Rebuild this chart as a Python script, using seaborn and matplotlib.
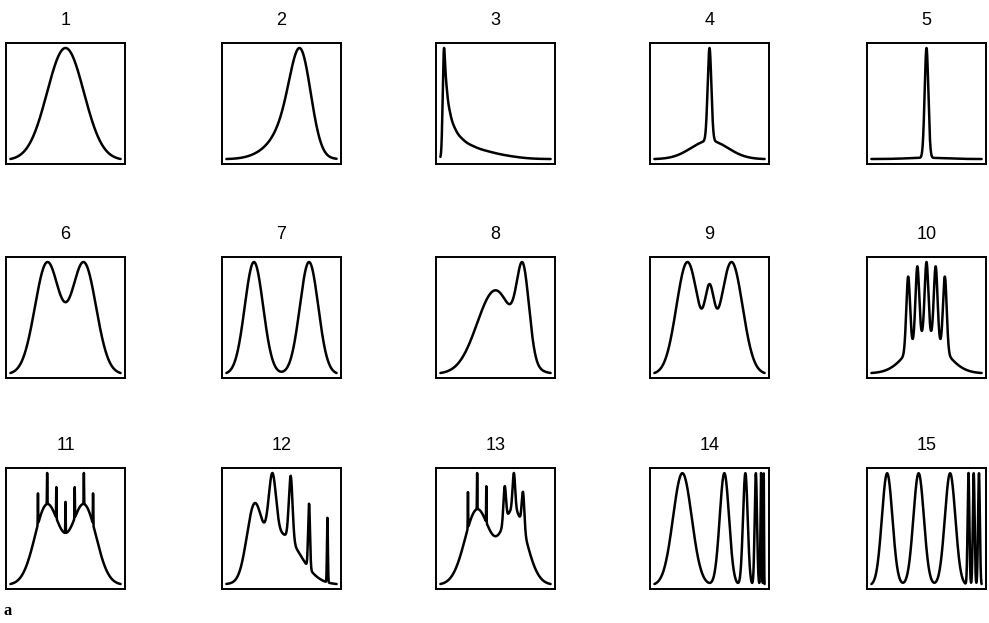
import numpy as np
import pandas as pd
import matplotlib
matplotlib.use("Agg")
import matplotlib.pyplot as plt
import seaborn as sns

# Normal-mixture parameters for the 15 test densities (weights, means, sds)
w1 = [1.0]
m1 = [0.0]
s1 = [1.0]

w2 = [1/5, 1/5, 3/5]
m2 = [0.0, 0.5, 13/12]
s2 = [1.0, 2/3, 5/9]

w3 = [1/8, 1/8, 1/8, 1/8, 1/8, 1/8, 1/8, 1/8]
m3 = [0.0, -1.0, -1.6667, -2.1111, -2.4074, -2.6049, -2.7366, -2.8244]
s3 = [1.0, 0.6667, 0.4444, 0.2963, 0.1975, 0.1317, 0.0878, 0.0585]

w4 = [2/3, 1/3]
m4 = [0.0, 0.0]
s4 = [1.0, 0.1]

w5 = [0.1, 0.9]
m5 = [0.0, 0.0]
s5 = [1.0, 0.1]

w6 = [0.5, 0.5]
m6 = [-1.0, 1.0]
s6 = [2/3, 2/3]

w7 = [0.5, 0.5]
m7 = [-1.5, 1.5]
s7 = [0.5, 0.5]

w8 = [0.75, 0.25]
m8 = [0.0, 1.5]
s8 = [1.0, 1/3]

w9 = [0.45, 0.45, 0.1]
m9 = [-1.2, 1.2, 0.0]
s9 = [0.6, 0.6, 0.25]

w10 = [0.5, 0.1, 0.1, 0.1, 0.1, 0.1]
m10 = [0.0, -1.0, -0.5, 0.0, 0.5, 1.0]
s10 = [1.0, 0.1, 0.1, 0.1, 0.1, 0.1]

w11 = [0.49, 0.49, 1/350, 1/350, 1/350, 1/350, 1/350, 1/350, 1/350]
m11 = [-1.0, 1.0, -1.5, -1.0, -0.5, 0.0, 0.5, 1.0, 1.5]
s11 = [2/3, 2/3, 0.01, 0.01, 0.01, 0.01, 0.01, 0.01, 0.01]

w12 = [0.5, 8/31, 4/31, 2/31, 1/31, 0.5/31]
m12 = [0.0, -1.5, -0.5, 0.5, 1.5, 2.5]
s12 = [1.0, 0.4, 0.2, 0.1, 0.05, 0.025]

w13 = [0.46, 0.46, 1/300, 1/300, 1/300, 7/300, 7/300, 7/300]
m13 = [-1.0, 1.0, -0.5, -1.0, -1.5, 0.5, 1.0, 1.5]
s13 = [2/3, 2/3, 0.01, 0.01, 0.01, 0.07, 0.07, 0.07]

w14 = [32/63, 16/63, 8/63, 4/63, 2/63, 1/63]
m14 = [-1.4762, 0.8095, 1.9524, 2.5238, 2.8095, 2.9524]
s14 = [0.5079, 0.2540, 0.1270, 0.0635, 0.0317, 0.0159]

w15 = [2/7, 2/7, 2/7, 1/21, 1/21, 1/21]
m15 = [-15/7, -3/7, 9/7, 16/7, 18/7, 20/7]
s15 = [2/7, 2/7, 2/7, 1/21, 1/21, 1/21]

panels = [
    (w1, m1, s1), (w2, m2, s2), (w3, m3, s3), (w4, m4, s4), (w5, m5, s5),
    (w6, m6, s6), (w7, m7, s7), (w8, m8, s8), (w9, m9, s9), (w10, m10, s10),
    (w11, m11, s11), (w12, m12, s12), (w13, m13, s13), (w14, m14, s14), (w15, m15, s15),
]

x = np.linspace(-3, 3, 4001)


def mixture_density(x, weights, means, sds):
    y = np.zeros_like(x)
    for w, m, s in zip(weights, means, sds):
        y += w * np.exp(-0.5 * ((x - m) / s) ** 2) / (s * np.sqrt(2 * np.pi))
    return y


sns.set_style("white")
plt.rcParams['font.family'] = ['Liberation Sans', 'DejaVu Sans']
plt.rcParams['text.color'] = 'black'

W, H = 989, 623
fig = plt.figure(figsize=(W / 100, H / 100), dpi=100)

col_left = [6, 222, 436, 650, 867]
row_top = [43, 257, 468]
box_w, box_h = 119, 121

for i, (w, m, s) in enumerate(panels):
    r, c = divmod(i, 5)
    ax = fig.add_axes([col_left[c] / W, 1 - (row_top[r] + box_h) / H, box_w / W, box_h / H])
    df = pd.DataFrame({"x": x, "density": mixture_density(x, w, m, s)})
    sns.lineplot(data=df, x="x", y="density", ax=ax, color="black", lw=1.8, estimator=None)
    ax.margins(x=0.04, y=0.045)
    ax.set_xticks([])
    ax.set_yticks([])
    ax.set_xlabel("")
    ax.set_ylabel("")
    for sp in ax.spines.values():
        sp.set_visible(True)
        sp.set_color("black")
        sp.set_linewidth(1.4)
    ax.set_title(str(i + 1), fontsize=13, pad=13, color="black")

fig.text(3 / W, 1 - 615 / H, "a", fontsize=12, fontweight="bold", family="Liberation Serif",
         color="black")

fig.savefig("out.png", dpi=100, facecolor="white")
